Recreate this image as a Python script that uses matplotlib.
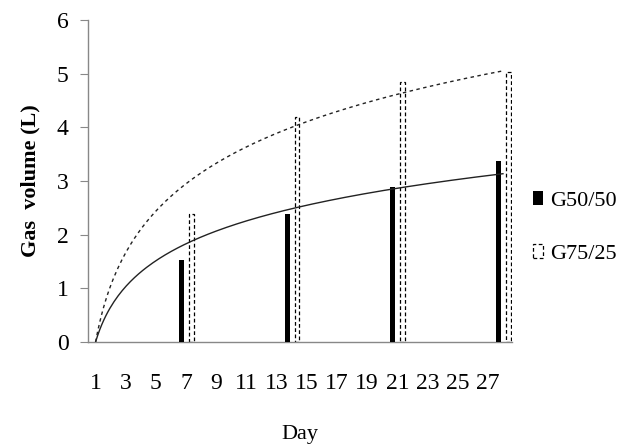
import numpy as np
import matplotlib
matplotlib.use("Agg")
import matplotlib.pyplot as plt

# dados
dias = [7, 14, 21, 28]
g50 = [1.53, 2.38, 2.89, 3.37]
g75 = [2.38, 4.19, 4.84, 5.03]
rotulos_x = list(range(1, 28, 2))
rotulos_y = list(range(0, 7))

plt.rcParams["font.family"] = ["Liberation Serif", "DejaVu Serif"]

fig = plt.figure(figsize=(6.27, 4.47), dpi=100)
ax = fig.add_axes([0.1404, 0.2349, 0.6762, 0.7204])

x = np.array(dias, dtype=float)
ax.bar(x - 0.3, g50, width=0.33, color="black", label="G50/50", zorder=3)
ax.bar(x + 0.35, g75, width=0.33, facecolor="white", edgecolor="black",
       linestyle=(0, (3, 2)), linewidth=0.9, label="G75/25", zorder=2)

# linhas de tendência logarítmicas (ajuste pela origem, como no Excel)
lx = np.log(x)
a50 = np.sum(lx * np.array(g50)) / np.sum(lx ** 2)
a75 = np.sum(lx * np.array(g75)) / np.sum(lx ** 2)
xs = np.linspace(1, 28, 200)
ax.plot(xs, a50 * np.log(xs), color="#222222", linewidth=1.0, zorder=4)
ax.plot(xs, a75 * np.log(xs), color="#222222", linewidth=1.0,
        linestyle=(0, (2.5, 2.5)), zorder=4)

ax.set_xlim(0.5, 28.6)
ax.set_ylim(0, 6)
ax.set_xticks(rotulos_x)
ax.set_yticks(rotulos_y)
ax.tick_params(axis="x", length=0, pad=22, labelsize=17)
ax.tick_params(axis="y", length=6, width=0.8, color="#888888", pad=8, labelsize=17)

for lado in ["top", "right"]:
    ax.spines[lado].set_visible(False)
for lado in ["left", "bottom"]:
    ax.spines[lado].set_color("#888888")
    ax.spines[lado].set_linewidth(1.0)

ax.set_xlabel("Day", fontsize=16, labelpad=23)
ax.set_ylabel("Gas  volume (L)", fontsize=16, fontweight="bold", labelpad=12)

ax.legend(loc="center left", bbox_to_anchor=(1.05, 0.355), frameon=False,
          fontsize=16, handlelength=0.45, handleheight=0.6, handletextpad=0.3,
          labelspacing=1.5, borderpad=0, borderaxespad=0)

fig.savefig("out.png", dpi=100)
